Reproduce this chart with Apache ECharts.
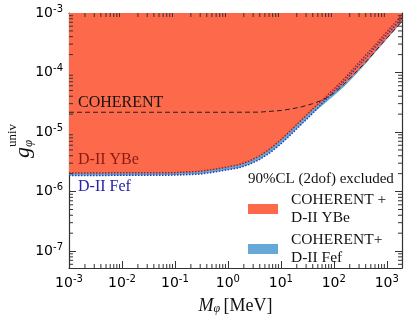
<!DOCTYPE html>
<html>
<head>
<meta charset="utf-8">
<script src="https://cdn.jsdelivr.net/npm/echarts@6.0.0/dist/echarts.min.js"></script>
<style>
  html, body { margin: 0; padding: 0; background: #fff; }
  #chart { width: 407px; height: 320px; }
</style>
</head>
<body>
<div id="chart"></div>
<script>
// masses in MeV, couplings dimensionless
const massComb = [0.001, 0.01, 0.1, 0.3, 0.6, 1, 1.6, 2.5, 4, 6.3, 10, 16, 25, 40, 63, 100, 160, 250, 400, 630, 1000, 1950];
const gYBeComb = [2.05e-6, 2.05e-6, 2.08e-6, 2.19e-6, 2.4e-6, 2.6e-6, 2.82e-6, 3.24e-6, 3.98e-6, 5.25e-6, 7.41e-6, 1.1e-5, 1.62e-5, 2.4e-5, 3.31e-5, 4.57e-5, 6.46e-5, 9.55e-5, 1.48e-4, 2.34e-4, 3.72e-4, 7.24e-4];
const gFefComb = [1.86e-6, 1.86e-6, 1.89e-6, 1.97e-6, 2.15e-6, 2.32e-6, 2.5e-6, 2.85e-6, 3.47e-6, 4.52e-6, 6.31e-6, 9.33e-6, 1.38e-5, 2.07e-5, 2.88e-5, 4.07e-5, 5.89e-5, 8.91e-5, 1.41e-4, 2.26e-4, 3.63e-4, 7.08e-4];

const massCoh = [0.001, 1, 4, 10, 16, 25, 40, 63, 100, 160, 250, 400, 630, 1000, 1950];
const gCoh = [2.15e-5, 2.15e-5, 2.16e-5, 2.3e-5, 2.45e-5, 2.66e-5, 3.0e-5, 3.47e-5, 4.47e-5, 6.5e-5, 9.7e-5, 1.5e-4, 2.37e-4, 3.76e-4, 7.3e-4];

const massD2 = [0.001, 0.1, 0.3, 0.6, 1, 1.6, 2.5, 4, 6.3, 10, 16, 25, 40, 63, 100, 160, 250, 400, 630, 1000, 1950];
const gD2YBe = [2.05e-6, 2.08e-6, 2.19e-6, 2.4e-6, 2.6e-6, 2.82e-6, 3.24e-6, 3.98e-6, 5.25e-6, 7.41e-6, 1.1e-5, 1.62e-5, 2.45e-5, 3.55e-5, 5.25e-5, 7.9e-5, 1.23e-4, 1.95e-4, 3.0e-4, 4.8e-4, 9.3e-4];
const gD2Fef = [1.86e-6, 1.89e-6, 1.97e-6, 2.15e-6, 2.32e-6, 2.5e-6, 2.85e-6, 3.47e-6, 4.52e-6, 6.31e-6, 9.33e-6, 1.38e-5, 2.07e-5, 3.15e-5, 4.8e-5, 7.2e-5, 1.12e-4, 1.74e-4, 2.75e-4, 4.27e-4, 8.3e-4];

const xTickExp = [-3, -2, -1, 0, 1, 2, 3];
const yTickExp = [-7, -6, -5, -4, -3];

const xMin = 1e-3, xMax = 1940;
const yMin = 5.2e-8, yMax = 1e-3;

const red = '#fc6a4b';
const blue = '#66a9d6';
const serif = '"Liberation Serif", "DejaVu Serif", serif';
const sans = '"DejaVu Sans", sans-serif';
const nameRed = 'COHERENT +\nD-II YBe';
const nameBlue = 'COHERENT+\nD-II Fef';

const zip = (a, b) => a.map((v, i) => [v, b[i]]);

function expLabel(exps) {
    return function (v) {
        const e = Math.round(Math.log10(v));
        if (Math.abs(Math.log10(v) - e) > 0.01 || exps.indexOf(e) < 0) return '';
        return '10{s|' + e + '}';
    };
}

// minor ticks 2..9 x 10^k inside the range
function minorVals(exps, lo, hi) {
    const out = [];
    for (let e = exps[0] - 1; e <= exps[exps.length - 1]; e++) {
        for (let k = 2; k <= 9; k++) {
            const v = k * Math.pow(10, e);
            if (v > lo && v < hi) out.push(v);
        }
    }
    return out;
}

const tickStyle = { stroke: '#333', lineWidth: 1 };
const minorLen = 4;

const xMinorSeries = {
    type: 'custom', silent: true, z: 20,
    data: minorVals(xTickExp, xMin, xMax).map(v => [v, yMin]),
    renderItem: function (params, api) {
        const b = api.coord([api.value(0), yMin]);
        const t = api.coord([api.value(0), yMax]);
        return { type: 'group', children: [
            { type: 'line', shape: { x1: b[0], y1: b[1], x2: b[0], y2: b[1] - minorLen }, style: tickStyle },
            { type: 'line', shape: { x1: t[0], y1: t[1], x2: t[0], y2: t[1] + minorLen }, style: tickStyle }
        ] };
    }
};

const yMinorSeries = {
    type: 'custom', silent: true, z: 20,
    data: minorVals(yTickExp, yMin, yMax).map(v => [xMin, v]),
    renderItem: function (params, api) {
        const l = api.coord([xMin, api.value(1)]);
        const r = api.coord([xMax, api.value(1)]);
        return { type: 'group', children: [
            { type: 'line', shape: { x1: l[0], y1: l[1], x2: l[0] + minorLen, y2: l[1] }, style: tickStyle },
            { type: 'line', shape: { x1: r[0], y1: r[1], x2: r[0] - minorLen, y2: r[1] }, style: tickStyle }
        ] };
    }
};

const labelRich = {
    fontFamily: sans, fontSize: 14, color: '#000',
    rich: { s: { fontFamily: sans, fontSize: 10, color: '#000', padding: [0, 0, 8, 0] } }
};

function axisCommon(extra) {
    return Object.assign({
        type: 'log', logBase: 10,
        axisLine: { show: true, onZero: false, lineStyle: { color: '#333', width: 1.2 } },
        axisTick: { show: true, inside: true, length: 7, lineStyle: { color: '#333', width: 1 } },
        splitLine: { show: false },
        minorTick: { show: false }
    }, extra);
}

function curve(name, data, z, lineStyle) {
    return { name: name, type: 'line', data: data, z: z, symbol: 'none', smooth: false, lineStyle: lineStyle };
}

const chart = echarts.init(document.getElementById('chart'), null, { renderer: 'canvas' });

chart.setOption({
    animation: false,
    grid: { left: 69, right: 5, top: 13, bottom: 51 },
    xAxis: [
        axisCommon({
            min: xMin, max: xMax, position: 'bottom',
            axisLabel: Object.assign({ margin: 6, formatter: expLabel(xTickExp) }, labelRich),
            name: '{m|M}{s|φ} {t|[MeV]}', nameLocation: 'middle', nameGap: 29,
            nameTextStyle: {
                rich: {
                    m: { fontFamily: serif, fontStyle: 'italic', fontSize: 18, color: '#111' },
                    s: { fontFamily: serif, fontStyle: 'italic', fontSize: 12, color: '#111', padding: [6, 0, 0, 0] },
                    t: { fontFamily: serif, fontSize: 18, color: '#111' }
                }
            }
        }),
        axisCommon({ min: xMin, max: xMax, position: 'top', axisLabel: { show: false } })
    ],
    yAxis: [
        axisCommon({
            min: yMin, max: yMax, position: 'left',
            axisLabel: Object.assign({ margin: 6, formatter: expLabel(yTickExp) }, labelRich)
        }),
        axisCommon({ min: yMin, max: yMax, position: 'right', axisLabel: { show: false } })
    ],
    legend: {
        left: 248, top: 191, orient: 'vertical', selectedMode: false, padding: 0,
        itemWidth: 30, itemHeight: 10, itemGap: 4, icon: 'rect',
        data: [
            { name: nameRed, itemStyle: { color: red } },
            { name: nameBlue, itemStyle: { color: blue } }
        ],
        textStyle: { fontFamily: serif, fontSize: 15.5, lineHeight: 18, color: '#111', padding: [0, 0, 0, 8] }
    },
    graphic: [
        { type: 'text', x: 78, y: 103, z: 30, style: { text: 'COHERENT', fontFamily: serif, fontSize: 16, fill: '#111', verticalAlign: 'middle' } },
        { type: 'text', x: 78, y: 160, z: 30, style: { text: 'D-II YBe', fontFamily: serif, fontSize: 16, fill: '#8b1a12', verticalAlign: 'middle' } },
        { type: 'text', x: 78, y: 187, z: 30, style: { text: 'D-II Fef', fontFamily: serif, fontSize: 16, fill: '#2424a8', verticalAlign: 'middle' } },
        { type: 'text', x: 248, y: 179, z: 30, style: { text: '90%CL (2dof) excluded', fontFamily: serif, fontSize: 15, fill: '#111', verticalAlign: 'middle' } },
        {
            type: 'group', x: 23, y: 158, rotation: Math.PI / 2, z: 30,
            children: [
                { type: 'text', x: 0, y: 0, style: { text: 'g', fontFamily: serif, fontStyle: 'italic', fontSize: 22, fill: '#111', verticalAlign: 'middle' } },
                { type: 'text', x: 11, y: 6, style: { text: 'φ', fontFamily: serif, fontStyle: 'italic', fontSize: 13, fill: '#111', verticalAlign: 'middle' } },
                { type: 'text', x: 11, y: -10, style: { text: 'univ', fontFamily: serif, fontSize: 13, fill: '#111', verticalAlign: 'middle' } }
            ]
        }
    ],
    series: [
        {
            name: nameBlue, type: 'line', data: zip(massComb, gFefComb), z: 1, symbol: 'none',
            lineStyle: { width: 0 }, areaStyle: { color: blue, opacity: 1, origin: 'end' }
        },
        {
            name: nameRed, type: 'line', data: zip(massComb, gYBeComb), z: 2, symbol: 'none',
            lineStyle: { width: 0 }, areaStyle: { color: red, opacity: 1, origin: 'end' }
        },
        curve('D-II Fef', zip(massD2, gD2Fef), 3, { color: '#2a3bbf', width: 1.5, type: [1.5, 1.5] }),
        curve('D-II YBe', zip(massD2, gD2YBe), 4, { color: '#a8201a', width: 1.5, type: [1.5, 1.5] }),
        curve('COHERENT', zip(massCoh, gCoh), 5, { color: '#222', width: 1, type: [5, 3] }),
        xMinorSeries,
        yMinorSeries
    ]
});
</script>
</body>
</html>
